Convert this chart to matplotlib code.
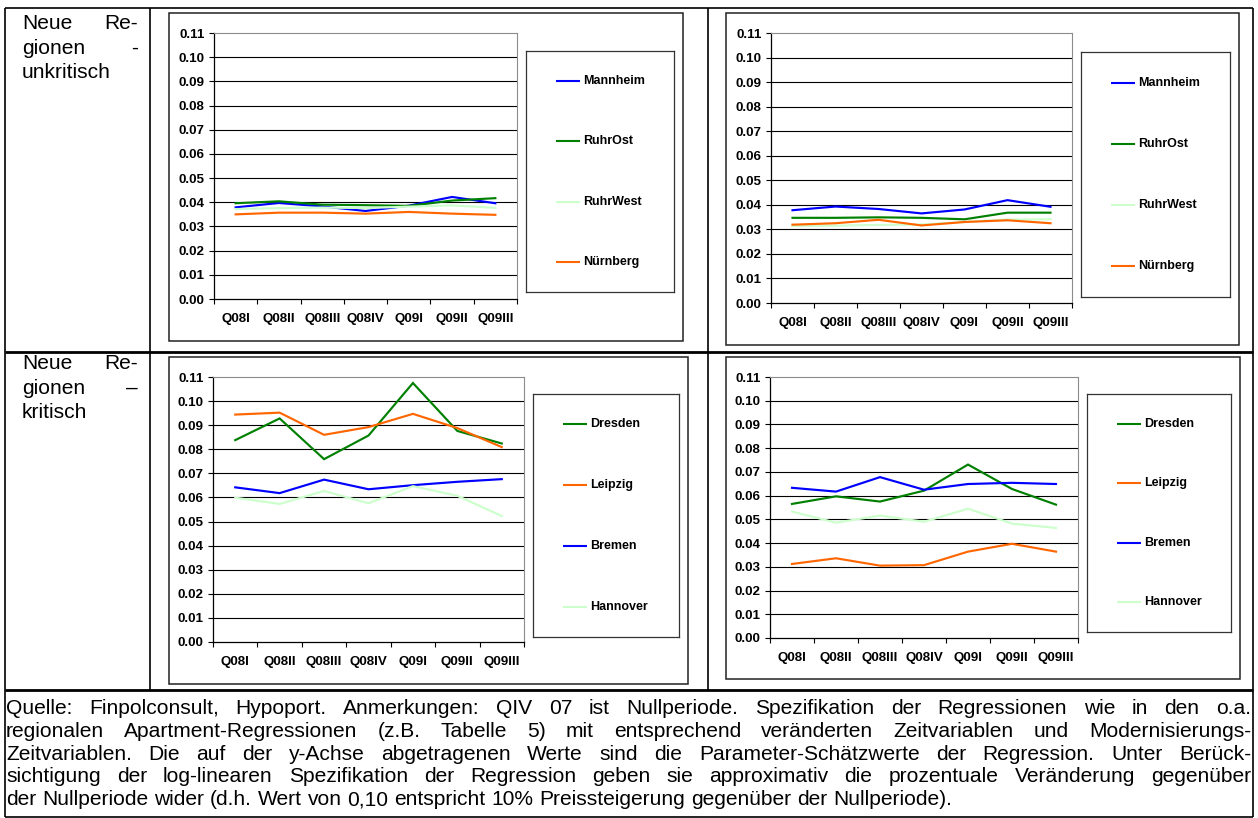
import matplotlib
matplotlib.use("Agg")
import matplotlib.pyplot as plt
from matplotlib.lines import Line2D
from matplotlib.patches import Rectangle

# ---------------------------------------------------------------- data
quarters = ["Q08I", "Q08II", "Q08III", "Q08IV", "Q09I", "Q09II", "Q09III"]
y_ticks = [0.00, 0.01, 0.02, 0.03, 0.04, 0.05, 0.06, 0.07, 0.08, 0.09, 0.10, 0.11]

unkrit_names = ["Mannheim", "RuhrOst", "RuhrWest", "Nürnberg"]
krit_names = ["Dresden", "Leipzig", "Bremen", "Hannover"]

# neue Regionen, unkritisch – linke Spalte
ul_mannheim = [0.0379, 0.0397, 0.0383, 0.0364, 0.0386, 0.0422, 0.0396]
ul_ruhrost = [0.0396, 0.0404, 0.0390, 0.0388, 0.0385, 0.0407, 0.0417]
ul_ruhrwest = [0.0372, 0.0376, 0.0378, 0.0376, 0.0382, 0.0387, 0.0377]
ul_nuernberg = [0.0350, 0.0357, 0.0357, 0.0353, 0.0360, 0.0353, 0.0348]

# neue Regionen, unkritisch – rechte Spalte
ur_mannheim = [0.0378, 0.0393, 0.0383, 0.0365, 0.0381, 0.0419, 0.0392]
ur_ruhrost = [0.0347, 0.0347, 0.0349, 0.0347, 0.0341, 0.0368, 0.0368]
ur_ruhrwest = [0.0314, 0.0315, 0.0318, 0.0320, 0.0330, 0.0340, 0.0341]
ur_nuernberg = [0.0319, 0.0325, 0.0339, 0.0316, 0.0330, 0.0337, 0.0325]

# neue Regionen, kritisch – linke Spalte
kl_dresden = [0.0838, 0.0928, 0.0759, 0.0857, 0.1075, 0.0876, 0.0824]
kl_leipzig = [0.0944, 0.0952, 0.0860, 0.0892, 0.0947, 0.0888, 0.0809]
kl_bremen = [0.0642, 0.0618, 0.0674, 0.0634, 0.0651, 0.0665, 0.0676]
kl_hannover = [0.0599, 0.0573, 0.0627, 0.0576, 0.0647, 0.0607, 0.0523]

# neue Regionen, kritisch – rechte Spalte
kr_dresden = [0.0565, 0.0597, 0.0575, 0.0621, 0.0731, 0.0628, 0.0562]
kr_leipzig = [0.0312, 0.0336, 0.0305, 0.0307, 0.0364, 0.0397, 0.0364]
kr_bremen = [0.0633, 0.0617, 0.0678, 0.0625, 0.0649, 0.0654, 0.0649]
kr_hannover = [0.0533, 0.0486, 0.0516, 0.0490, 0.0545, 0.0482, 0.0464]

row_labels = [["Neue", "Re-"], ["gionen", "-"], ["unkritisch"]]
row_labels_2 = [["Neue", "Re-"], ["gionen", "–"], ["kritisch"]]

caption_lines = [
    "Quelle: Finpolconsult, Hypoport. Anmerkungen: QIV 07 ist Nullperiode. Spezifikation der Regressionen wie in den o.a.",
    "regionalen Apartment-Regressionen (z.B. Tabelle 5) mit entsprechend veränderten Zeitvariablen und Modernisierungs-",
    "Zeitvariablen. Die auf der y-Achse abgetragenen Werte sind die Parameter-Schätzwerte der Regression. Unter Berück-",
    "sichtigung der log-linearen Spezifikation der Regression geben sie approximativ die prozentuale Veränderung gegenüber",
    "der Nullperiode wider (d.h. Wert von 0,10 entspricht 10% Preissteigerung gegenüber der Nullperiode).",
]

BLUE, GREEN, LGREEN, ORANGE = "#0000FF", "#008000", "#CCFFCC", "#FF6600"

# ---------------------------------------------------------------- figure
W, H = 1258, 818
fig = plt.figure(figsize=(W / 100, H / 100), dpi=100)
fig.patch.set_facecolor("white")
renderer = fig.canvas.get_renderer()

TEXT_FONT = "Liberation Sans"
TICK_KW = dict(fontfamily=TEXT_FONT, fontweight="bold", fontsize=9.6)


def fx(x):
    return x / W


def fy(y):
    return 1 - y / H


def hline(x0, x1, y, lw=1.0, color="black"):
    fig.add_artist(Line2D([fx(x0), fx(x1)], [fy(y), fy(y)], transform=fig.transFigure,
                          color=color, lw=lw, solid_capstyle="butt"))


def vline(x, y0, y1, lw=1.0, color="black"):
    fig.add_artist(Line2D([fx(x), fx(x)], [fy(y0), fy(y1)], transform=fig.transFigure,
                          color=color, lw=lw, solid_capstyle="butt"))


def frame(x0, y0, x1, y1, lw=1.1, color="#222222"):
    fig.add_artist(Rectangle((fx(x0), fy(y1)), (x1 - x0) / W, (y1 - y0) / H,
                             transform=fig.transFigure, fill=False, ec=color, lw=lw))


def chart(plot_box, legend_box, names, series, colors):
    l, t, r, b = plot_box
    ax = fig.add_axes([fx(l), fy(b), (r - l) / W, (b - t) / H])
    xs = list(range(len(quarters)))
    lines = []
    for vals, c in zip(series, colors):
        ln, = ax.plot(xs, vals, color=c, lw=1.55, solid_joinstyle="miter", zorder=3)
        lines.append(ln)
    ax.set_xlim(-0.5, len(quarters) - 0.5)
    ax.set_ylim(y_ticks[0], y_ticks[-1])
    ax.hlines(y_ticks[1:-1], -0.5, len(quarters) - 0.5, colors="black", lw=0.8, zorder=1)
    ax.set_yticks(y_ticks)
    ax.set_yticklabels([f"{v:.2f}" for v in y_ticks], **TICK_KW)
    ax.set_xticks(xs)
    ax.set_xticklabels(quarters, **TICK_KW)
    ax.set_xticks([i - 0.5 for i in range(len(quarters) + 1)], minor=True)
    ax.tick_params(axis="x", which="major", length=0, pad=10.0)
    ax.tick_params(axis="x", which="minor", length=3.6, width=0.8, direction="out")
    ax.tick_params(axis="y", which="major", length=3.6, width=0.8, direction="out", pad=3)
    for s in ("left", "bottom"):
        ax.spines[s].set_color("black")
        ax.spines[s].set_linewidth(0.9)
    for s in ("top", "right"):
        ax.spines[s].set_color("#8c8c8c")
        ax.spines[s].set_linewidth(0.8)

    # legend box with evenly spread entries
    lx0, ly0, lx1, ly1 = legend_box
    lw_px, lh_px = lx1 - lx0, ly1 - ly0
    lax = fig.add_axes([fx(lx0), fy(ly1), lw_px / W, lh_px / H])
    lax.set_xlim(0, lw_px)
    lax.set_ylim(lh_px, 0)
    lax.set_xticks([])
    lax.set_yticks([])
    for s in lax.spines.values():
        s.set_color("#333333")
        s.set_linewidth(0.9)
    n = len(names)
    for i, (name, ln) in enumerate(zip(names, lines)):
        yy = lh_px * (i + 0.5) / n
        lax.plot([30, 54], [yy, yy], color=ln.get_color(), lw=1.5, solid_capstyle="butt")
        lax.text(57, yy, name, va="center", ha="left", fontfamily=TEXT_FONT,
                 fontweight="bold", fontsize=9.0)
    return ax


def text_width(s, size):
    t = fig.text(0, 0, s, fontfamily=TEXT_FONT, fontsize=size)
    w = t.get_window_extent(renderer).width
    t.remove()
    return w


def justified(words, x0, x1, y, size, justify=True):
    widths = [text_width(w, size) for w in words]
    if justify and len(words) > 1:
        gap = (x1 - x0 - sum(widths)) / (len(words) - 1)
    else:
        gap = text_width("a b", size) - text_width("ab", size)
    x = x0
    for w, wd in zip(words, widths):
        fig.text(fx(x), fy(y), w, fontfamily=TEXT_FONT, fontsize=size,
                 ha="left", va="baseline")
        x += wd + gap


# ---------------------------------------------------------------- table grid
hline(5, 1253, 8, lw=1.2)
hline(5, 1253, 352, lw=2.0)
hline(5, 1253, 690, lw=2.0)
hline(5, 1253, 817, lw=1.2)
vline(5, 8, 817, lw=1.2)
vline(1253, 8, 817, lw=1.2)
vline(150, 8, 690, lw=1.2)
vline(708, 8, 690, lw=1.2)

# chart frames
frame(169, 13, 683, 341)
frame(726, 13, 1239, 345)
frame(169, 357, 688, 684)
frame(726, 357, 1240, 679)

unkrit_colors = [BLUE, GREEN, LGREEN, ORANGE]
krit_colors = [GREEN, ORANGE, BLUE, LGREEN]

chart((214, 33, 517, 299), (526, 51, 674, 292), unkrit_names,
      [ul_mannheim, ul_ruhrost, ul_ruhrwest, ul_nuernberg], unkrit_colors)
chart((771, 33, 1072, 303), (1081, 52, 1230, 297), unkrit_names,
      [ur_mannheim, ur_ruhrost, ur_ruhrwest, ur_nuernberg], unkrit_colors)
chart((213, 377, 524, 642), (533, 394, 679, 637), krit_names,
      [kl_dresden, kl_leipzig, kl_bremen, kl_hannover], krit_colors)
chart((770, 377, 1078, 638), (1087, 394, 1231, 632), krit_names,
      [kr_dresden, kr_leipzig, kr_bremen, kr_hannover], krit_colors)

# ---------------------------------------------------------------- body text
# font size chosen so the closing caption line has its natural length
cap_size = 12.0 * 948 / text_width(caption_lines[-1], 12.0)

for i, words in enumerate(row_labels):
    justified(words, 22, 138, 29 + 24.5 * i, cap_size, justify=i < 2)
for i, words in enumerate(row_labels_2):
    justified(words, 22, 138, 369 + 24.5 * i, cap_size, justify=i < 2)

for i, line in enumerate(caption_lines):
    justified(line.split(" "), 6, 1251, 714 + 22.8 * i, cap_size,
              justify=i < len(caption_lines) - 1)

fig.savefig("out.png", dpi=100, facecolor="white")
